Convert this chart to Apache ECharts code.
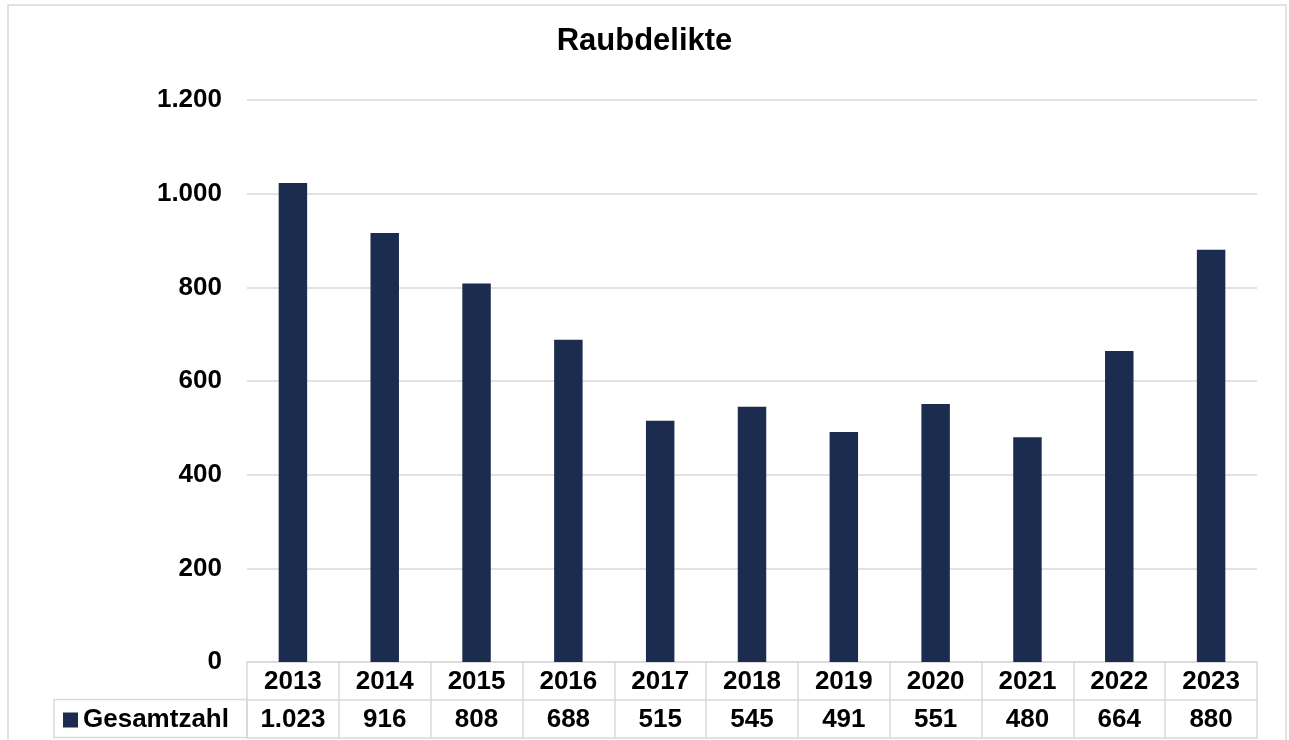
<!DOCTYPE html>
<html>
<head>
<meta charset="utf-8">
<title>Raubdelikte</title>
<script src="https://cdn.jsdelivr.net/npm/echarts@6/dist/echarts.min.js"></script>
<style>
  html, body { margin: 0; padding: 0; background: #fff; }
  #chart { width: 1289px; height: 740px; }
</style>
</head>
<body>
<div id="chart"></div>
<script>
// data
const years = ['2013', '2014', '2015', '2016', '2017', '2018', '2019', '2020', '2021', '2022', '2023']
const gesamtzahl = [1023, 916, 808, 688, 515, 545, 491, 551, 480, 664, 880]
const seriesName = 'Gesamtzahl'
const yTicks = [0, 200, 400, 600, 800, 1000, 1200]

const FONT = '"Liberation Sans", Arial, sans-serif'
const GRID_COLOR = '#d9d9d9'
const BAR_COLOR = '#1b2c4e'

// German thousands separator: 1023 -> "1.023"
function fmt(v) {
  return String(v).replace(/\B(?=(\d{3})+(?!\d))/g, '.')
}

const chart = echarts.init(document.getElementById('chart'))

const tableAxis = {
  type: 'category',
  position: 'bottom',
  axisLine: { show: true, lineStyle: { color: GRID_COLOR, width: 1.5 } },
  axisTick: { show: true, interval: 0, length: 38, lineStyle: { color: GRID_COLOR, width: 1.5 } },
  axisLabel: {
    interval: 0,
    margin: 7,
    color: '#000',
    fontFamily: FONT,
    fontWeight: 'bold',
    fontSize: 26,
    lineHeight: 26
  }
}

chart.setOption({
  animation: false,
  title: {
    text: 'Raubdelikte',
    left: 'center',
    top: 21,
    textStyle: { fontFamily: FONT, fontWeight: 'bold', fontSize: 31, color: '#000' }
  },
  legend: {
    data: [seriesName],
    left: 58,
    top: 702,
    icon: 'rect',
    itemWidth: 15,
    itemHeight: 15,
    textStyle: { fontFamily: FONT, fontWeight: 'bold', fontSize: 26, color: '#000' }
  },
  grid: { left: 247, right: 32, top: 100, bottom: 78 },
  graphic: [
    // outer chart frame
    { type: 'rect', shape: { x: 8, y: 5, width: 1278, height: 760 }, style: { fill: 'none', stroke: GRID_COLOR, lineWidth: 1.5 }, silent: true },
    // legend cell of the data table
    { type: 'rect', shape: { x: 54, y: 699.5, width: 193, height: 38 }, style: { fill: 'none', stroke: GRID_COLOR, lineWidth: 1.5 }, silent: true }
  ],
  xAxis: [
    Object.assign({}, tableAxis, { data: years }),
    Object.assign({}, tableAxis, { data: gesamtzahl.map(fmt), offset: 38 }),
    { type: 'category', position: 'bottom', offset: 76, data: years,
      axisLine: { show: true, lineStyle: { color: GRID_COLOR, width: 1.5 } },
      axisTick: { show: false }, axisLabel: { show: false } }
  ],
  yAxis: {
    type: 'value',
    min: yTicks[0],
    max: yTicks[yTicks.length - 1],
    interval: yTicks[1] - yTicks[0],
    axisLine: { show: false },
    axisTick: { show: false },
    axisLabel: {
      margin: 25,
      color: '#000',
      fontFamily: FONT,
      fontWeight: 'bold',
      fontSize: 26,
      formatter: fmt
    },
    splitLine: { lineStyle: { color: GRID_COLOR, width: 1.5 } }
  },
  series: [{
    name: seriesName,
    type: 'bar',
    xAxisIndex: 0,
    data: gesamtzahl,
    barWidth: '31%',
    itemStyle: { color: BAR_COLOR }
  }]
})
</script>
</body>
</html>
